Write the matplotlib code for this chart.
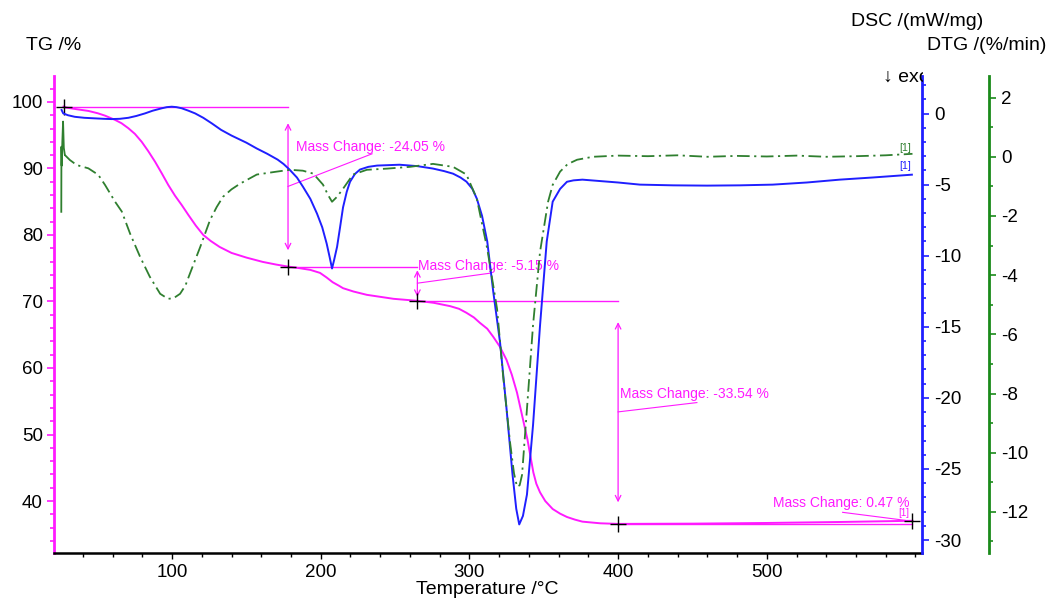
import matplotlib
matplotlib.use('Agg')
import matplotlib.pyplot as plt
from matplotlib.transforms import Bbox, TransformedBbox

plt.rcParams['font.family'] = ['Liberation Sans', 'DejaVu Sans']

# ---------------- data ----------------
tg_temp = [27, 29.2, 36, 43.7, 50, 54.9, 61.7, 66, 70.6, 75, 79.6, 84, 88.6, 93, 97.5, 102,
           106.5, 111, 116, 121, 126, 132, 140, 150, 161, 170, 178, 186, 193, 199.5, 204, 208,
           212, 215, 222, 231, 240, 249, 257, 265, 276, 287, 293, 298, 303, 307, 312, 316,
           320.5, 325, 328.5, 332, 335.5, 339, 343, 345, 347.5, 351, 356, 361, 365.6, 371,
           376, 388, 400, 450, 500, 550, 598]
tg_val = [99.3, 99.14, 98.9, 98.65, 98.3, 97.94, 97.3, 96.8, 96.05, 95.2, 94.0, 92.6, 91.0,
          89.3, 87.5, 85.9, 84.5, 83.0, 81.4, 80.0, 79.1, 78.2, 77.3, 76.6, 75.95, 75.55, 75.25,
          75.0, 74.75, 74.3, 73.6, 72.9, 72.4, 72.0, 71.5, 71.0, 70.7, 70.4, 70.25, 70.1, 69.8,
          69.3, 68.9, 68.3, 67.6, 66.8, 65.9, 64.7, 63.2, 61.2, 59.0, 56.3, 52.8, 49.3, 44.3,
          42.6, 41.3, 40.0, 38.8, 38.1, 37.6, 37.2, 36.9, 36.65, 36.56, 36.6, 36.7, 36.85, 37.03]

dsc_temp = [25.7, 26.8, 30, 34.6, 41, 48.2, 54, 59.4, 65, 70.6, 76, 81.8, 87, 93.1, 96.5, 99.8,
            103, 106.5, 111, 115.5, 121, 126.7, 133, 140, 150, 157, 164, 171, 175, 179, 184, 188,
            193, 197.5, 201, 204, 206, 207.6, 209, 211, 213, 215, 217.5, 219.7, 223, 226.4, 232,
            237.9, 253, 265, 275.5, 283, 289, 294, 298, 302, 305, 308.5, 312, 316, 320.6, 325,
            329, 331.5, 333.5, 336, 338.7, 342.8, 347.5, 352, 356, 361, 365.6, 370, 376, 388,
            400, 414.7, 437, 459.8, 482, 504, 527, 549, 571, 597.6]
dsc_val = [0.25, 0.01, -0.12, -0.23, -0.3, -0.34, -0.37, -0.39, -0.37, -0.3, -0.17, 0.01, 0.2,
           0.37, 0.45, 0.48, 0.45, 0.37, 0.2, 0.01, -0.3, -0.69, -1.15, -1.55, -2.05, -2.46,
           -2.83, -3.24, -3.55, -3.94, -4.5, -5.14, -6.0, -7.04, -8.0, -9.15, -10.1, -10.9,
           -10.3, -9.37, -8.0, -6.6, -5.5, -4.8, -4.25, -3.94, -3.75, -3.66, -3.6, -3.7, -3.87,
           -4.05, -4.23, -4.5, -4.79, -5.3, -5.99, -7.2, -9.0, -12.5, -16.1, -20.8, -25.4,
           -27.8, -28.9, -28.3, -26.8, -21.9, -14.9, -9.0, -6.2, -5.3, -4.8, -4.7, -4.65,
           -4.75, -4.85, -5.0, -5.05, -5.07, -5.05, -5.0, -4.85, -4.65, -4.5, -4.3]

dtg_temp = [25.5, 25.6, 25.8, 26.2, 26.7, 27.2, 27.9, 31.3, 35.9, 43.7, 50.4, 54.9, 61.7, 66.2,
            71.8, 78.5, 85, 92, 97.3, 101, 105.4, 109, 112, 119, 125.6, 130, 134.3, 140, 145.7,
            157, 170.6, 179.4, 188, 195, 201.5, 205, 207.6, 211, 215, 221.7, 231, 244.6, 260,
            275.5, 289, 298, 305, 312, 318.6, 322.6, 327.3, 330, 332, 333.8, 335.4, 338.7,
            342.8, 347.5, 352.9, 356, 361, 366, 372.4, 383, 400, 420, 440, 460, 480, 500, 520,
            540, 560, 580, 598]
dtg_val = [-1.86, 0.34, -0.3, 0.5, 1.19, 0.3, 0.06, -0.11, -0.28, -0.39, -0.61, -0.95, -1.52,
           -1.85, -2.6, -3.38, -4.05, -4.63, -4.8, -4.78, -4.63, -4.35, -3.95, -3.04, -2.13,
           -1.7, -1.35, -1.1, -0.91, -0.6, -0.5, -0.44, -0.47, -0.57, -0.94, -1.3, -1.52,
           -1.35, -1.08, -0.6, -0.44, -0.4, -0.34, -0.24, -0.34, -0.6, -1.42, -3.11, -5.14,
           -7.37, -9.64, -10.7, -11.15, -11.1, -10.75, -8.52, -5.68, -3.21, -1.52, -0.95, -0.5,
           -0.25, -0.1, 0.0, 0.04, 0.02, 0.05, 0.0, 0.03, 0.01, 0.04, 0.0, 0.02, 0.05, 0.1]

temp_ticks = [100, 200, 300, 400, 500]
tg_ticks = [40, 50, 60, 70, 80, 90, 100]
dsc_ticks = [0, -5, -10, -15, -20, -25, -30]
dtg_ticks = [2, 0, -2, -4, -6, -8, -10, -12]

step_temps = [27, 178, 265, 400, 598]
step_levels = [99.3, 75.25, 70.1, 36.56, 37.03]
mass_changes = ['-24.05', '-5.15', '-33.54', '0.47']

MAG = '#ff1aff'
BLUE = '#1f1fff'
GREEN = '#2f7f2f'
GSPINE = '#1a8a1a'

W, H = 1050, 601
fig = plt.figure(figsize=(W / 100, H / 100), dpi=100)
left, right, top, bottom = 54, 922, 76, 553.3
ax = fig.add_axes([left / W, 1 - bottom / H, (right - left) / W, (bottom - top) / H])
ax2 = ax.twinx()
ax3 = ax.twinx()

ax.set_xlim(20.6, 604.4)
ax.set_ylim(32.14, 103.9)
ax2.set_ylim(-30.93, 2.64)
ax3.set_ylim(-13.4, 2.73)

# curves (noisy start of the DTG trace is drawn solid, as in the reference)
n0 = 7
ax3.plot(dtg_temp[:n0], dtg_val[:n0], color=GREEN, lw=1.3)
ax3.plot(dtg_temp[n0 - 1:], dtg_val[n0 - 1:], color=GREEN, lw=1.3,
         linestyle=(0, (7, 2.5, 1.2, 2.5)))
ax2.plot(dsc_temp, dsc_val, color=BLUE, lw=1.4)
ax.plot(tg_temp, tg_val, color=MAG, lw=1.4)

# spines
for s in ['top', 'right']:
    ax.spines[s].set_visible(False)
ax.spines['left'].set_color(MAG)
ax.spines['left'].set_linewidth(2)
ax.spines['bottom'].set_color('black')
ax.spines['bottom'].set_linewidth(1.8)
for s in ['top', 'left', 'bottom']:
    ax2.spines[s].set_visible(False)
    ax3.spines[s].set_visible(False)
ax2.spines['right'].set_color(BLUE)
ax2.spines['right'].set_linewidth(2)
ax3.spines['right'].set_position(('axes', (989 - left) / (right - left)))
ax3.spines['right'].set_color(GSPINE)
ax3.spines['right'].set_linewidth(2)

FS = 13.5
ax.set_xticks(temp_ticks)
ax.set_xticks(list(range(40, 601, 20)), minor=True)
ax.set_yticks(tg_ticks)
ax.set_yticks(list(range(34, 104, 2)), minor=True)
ax.tick_params(axis='x', which='major', length=4, width=1, colors='black', labelsize=FS, pad=4)
ax.tick_params(axis='x', which='minor', length=3, width=1, colors='black')
ax.tick_params(axis='y', which='major', length=5, width=1.2, color=MAG, labelcolor='black', labelsize=FS, pad=3)
ax.tick_params(axis='y', which='minor', length=3, width=1.2, color=MAG)

ax2.set_yticks(dsc_ticks)
ax2.set_yticks(list(range(-30, 3)), minor=True)
ax2.tick_params(axis='y', which='major', length=5, width=1.2, color=BLUE, labelcolor='black', labelsize=FS, pad=4)
ax2.tick_params(axis='y', which='minor', length=3, width=1.2, color=BLUE)
ax2.set_yticklabels([str(v) for v in dsc_ticks])

ax3.set_yticks(dtg_ticks)
ax3.set_yticks(list(range(-13, 3)), minor=True)
ax3.tick_params(axis='y', which='major', length=5, width=1.2, color=GSPINE, labelcolor='black', labelsize=FS, pad=4)
ax3.tick_params(axis='y', which='minor', length=3, width=1.2, color=GSPINE)
ax3.set_yticklabels([str(v) for v in dtg_ticks])

# ---------------- mass change annotations ----------------
afs = 10
arrow_kw = dict(arrowstyle='<->', color=MAG, lw=0.9, shrinkA=0, shrinkB=0, mutation_scale=10)

ax.plot([step_temps[0], step_temps[1]], [step_levels[0]] * 2, color=MAG, lw=1)
ax.plot([step_temps[1], step_temps[2]], [step_levels[1]] * 2, color=MAG, lw=1)
ax.plot([step_temps[2], step_temps[3]], [step_levels[2]] * 2, color=MAG, lw=1)
ax.plot([step_temps[3], step_temps[4]], [step_levels[3]] * 2, color=MAG, lw=1)

# step 1
ax.annotate('', xy=(step_temps[1], 77.7), xytext=(step_temps[1], 96.8), arrowprops=arrow_kw)
ax.plot([step_temps[1], 234.5], [87.3, 92.2], color=MAG, lw=0.8)
ax.text(183.4, 93.3, f'Mass Change: {mass_changes[0]} %', color=MAG, fontsize=afs, va='center', ha='left')
# step 2
ax.annotate('', xy=(step_temps[2], 70.7), xytext=(step_temps[2], 74.7), arrowprops=arrow_kw)
ax.plot([step_temps[2], 313.8], [72.75, 74.25], color=MAG, lw=0.8)
ax.text(265.5, 75.35, f'Mass Change: {mass_changes[1]} %', color=MAG, fontsize=afs, va='center', ha='left')
# step 3
ax.annotate('', xy=(step_temps[3], 39.8), xytext=(step_temps[3], 66.9), arrowprops=arrow_kw)
ax.plot([step_temps[3], 453], [53.4, 54.8], color=MAG, lw=0.8)
ax.text(401, 56.1, f'Mass Change: {mass_changes[2]} %', color=MAG, fontsize=afs, va='center', ha='left')
# step 4
ax.plot([551, 593], [38.3, 37.1], color=MAG, lw=0.8)
ax.text(504, 39.7, f'Mass Change: {mass_changes[3]} %', color=MAG, fontsize=afs, va='center', ha='left')
ax.text(596, 37.4, '[1]', color=MAG, fontsize=7, va='bottom', ha='right')

# markers
ax.plot(step_temps, step_levels, linestyle='none', marker='+', color='black', ms=11, mew=1, zorder=5)

# curve tags
ax3.text(597, 0.3, '[1]', color=GREEN, fontsize=7.5, va='center', ha='right')
ax2.text(597, -3.7, '[1]', color=BLUE, fontsize=7.5, va='center', ha='right')

# ---------------- axis labels ----------------
LFS = 14
fig.text(26 / W, 1 - 45 / H, 'TG /%', fontsize=LFS, va='center', ha='left')
fig.text(851 / W, 1 - 22 / H, 'DSC /(mW/mg)', fontsize=LFS, va='center', ha='left')
fig.text(1046 / W, 1 - 45 / H, 'DTG /(%/min)', fontsize=LFS, va='center', ha='right')
fig.text(487 / W, 1 - 590 / H, 'Temperature /°C', fontsize=LFS, va='center', ha='center')
t = fig.text(883 / W, 1 - 77 / H, '↓ exo', fontsize=LFS, va='center', ha='left')
t.set_clip_box(TransformedBbox(Bbox([[0, 0], [923 / W, 1]]), fig.transFigure))
t.set_clip_on(True)

fig.savefig('out.png', dpi=100)
